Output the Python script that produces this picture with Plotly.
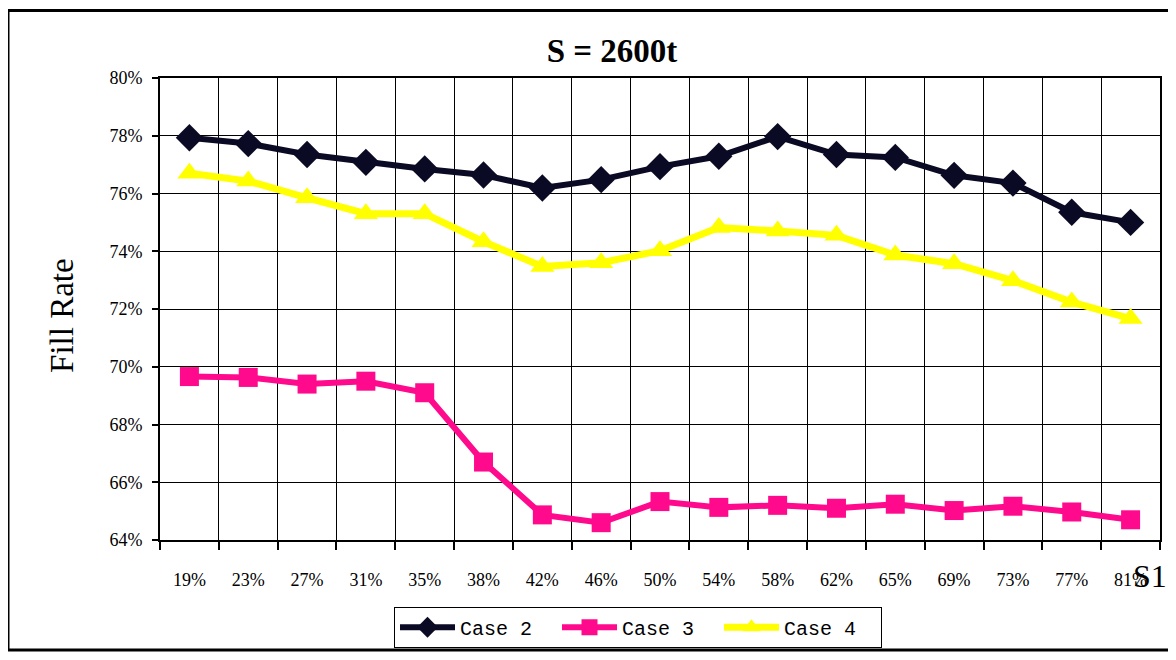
import plotly.graph_objects as go

categories = ["19%", "23%", "27%", "31%", "35%", "38%", "42%", "46%", "50%",
              "54%", "58%", "62%", "65%", "69%", "73%", "77%", "81%"]
case2 = [77.93, 77.73, 77.35, 77.08, 76.85, 76.64, 76.19, 76.48, 76.93,
         77.29, 77.97, 77.35, 77.25, 76.63, 76.36, 75.35, 75.0]
case3 = [69.66, 69.63, 69.4, 69.5, 69.1, 66.7, 64.87, 64.6, 65.33,
         65.13, 65.2, 65.1, 65.24, 65.02, 65.17, 64.97, 64.7]
case4 = [76.7, 76.43, 75.85, 75.3, 75.3, 74.33, 73.47, 73.6, 74.02,
         74.82, 74.7, 74.55, 73.87, 73.57, 72.98, 72.24, 71.67]
y_ticks = [64, 66, 68, 70, 72, 74, 76, 78, 80]

serif = "Liberation Serif"

fig = go.Figure()
fig.add_trace(go.Scatter(
    x=categories, y=case2, name="Case 2", mode="lines+markers",
    line=dict(color="#0a0a24", width=6),
    marker=dict(symbol="diamond", size=21, color="#0a0a24")))
fig.add_trace(go.Scatter(
    x=categories, y=case3, name="Case 3", mode="lines+markers",
    line=dict(color="#ff0a8c", width=6),
    marker=dict(symbol="square", size=19, color="#ff0a8c")))
fig.add_trace(go.Scatter(
    x=categories, y=case4, name="Case 4", mode="lines+markers",
    line=dict(color="#ffff00", width=7),
    marker=dict(symbol="triangle-up", size=21, color="#ffff00")))

# page body has an 8px margin: figure is 1168x652 drawn at (8, 8)
W, H = 1168, 652
L, T = 152, 70
fig.update_layout(
    width=W, height=H,
    margin=dict(l=L, r=16, t=T, b=116),
    paper_bgcolor="white", plot_bgcolor="white",
    title=dict(text="<b>S = 2600t</b>", x=(612 - 8) / W, xanchor="center",
               y=1 - (50 - 8) / H, yanchor="middle",
               font=dict(family=serif, size=33, color="black")),
    xaxis=dict(
        type="category", tickson="boundaries", range=[-0.5, 16.5],
        showgrid=True, gridcolor="black", gridwidth=1.3,
        ticks="outside", ticklen=8, tickcolor="black", tickwidth=1.5,
        ticklabelstandoff=22,
        showline=True, linecolor="black", linewidth=2, mirror=True,
        tickfont=dict(family=serif, size=18, color="black"),
        zeroline=False),
    yaxis=dict(
        range=[64, 80], tickvals=y_ticks,
        ticktext=[f"{v}%" for v in y_ticks],
        showgrid=True, gridcolor="black", gridwidth=1.3,
        ticks="outside", ticklen=6, tickcolor="black", tickwidth=1.5,
        ticklabelstandoff=6,
        showline=True, linecolor="black", linewidth=2, mirror=True,
        tickfont=dict(family=serif, size=18, color="black"),
        zeroline=False),
    legend=dict(
        orientation="h", x=(638 - 160) / 1000, xanchor="center",
        y=(544 - 632) / 466, yanchor="middle",
        bordercolor="black", borderwidth=1, bgcolor="white",
        font=dict(family="Liberation Mono", size=20, color="black"),
        itemwidth=55, entrywidth=92, itemsizing="trace"),
    showlegend=True,
)

fig.add_annotation(text="Fill Rate", xref="paper", yref="paper",
                   x=(62 - 160) / 1000, y=(544 - 318) / 466, textangle=-90,
                   showarrow=False, xanchor="center", yanchor="middle",
                   font=dict(family=serif, size=33, color="black"))
fig.add_annotation(text="S1", xref="paper", yref="paper",
                   x=(1150 - 160) / 1000, y=(544 - 580) / 466, showarrow=False,
                   xanchor="center", yanchor="middle",
                   font=dict(family=serif, size=32, color="black"))

fig.add_shape(type="rect", xref="paper", yref="paper",
              x0=(8 - 160) / 1000, x1=(1190 - 160) / 1000,
              y0=(544 - 655) / 466, y1=(544 - 10) / 466,
              line=dict(color="black", width=3), layer="below")

fig.write_html("out.html")
